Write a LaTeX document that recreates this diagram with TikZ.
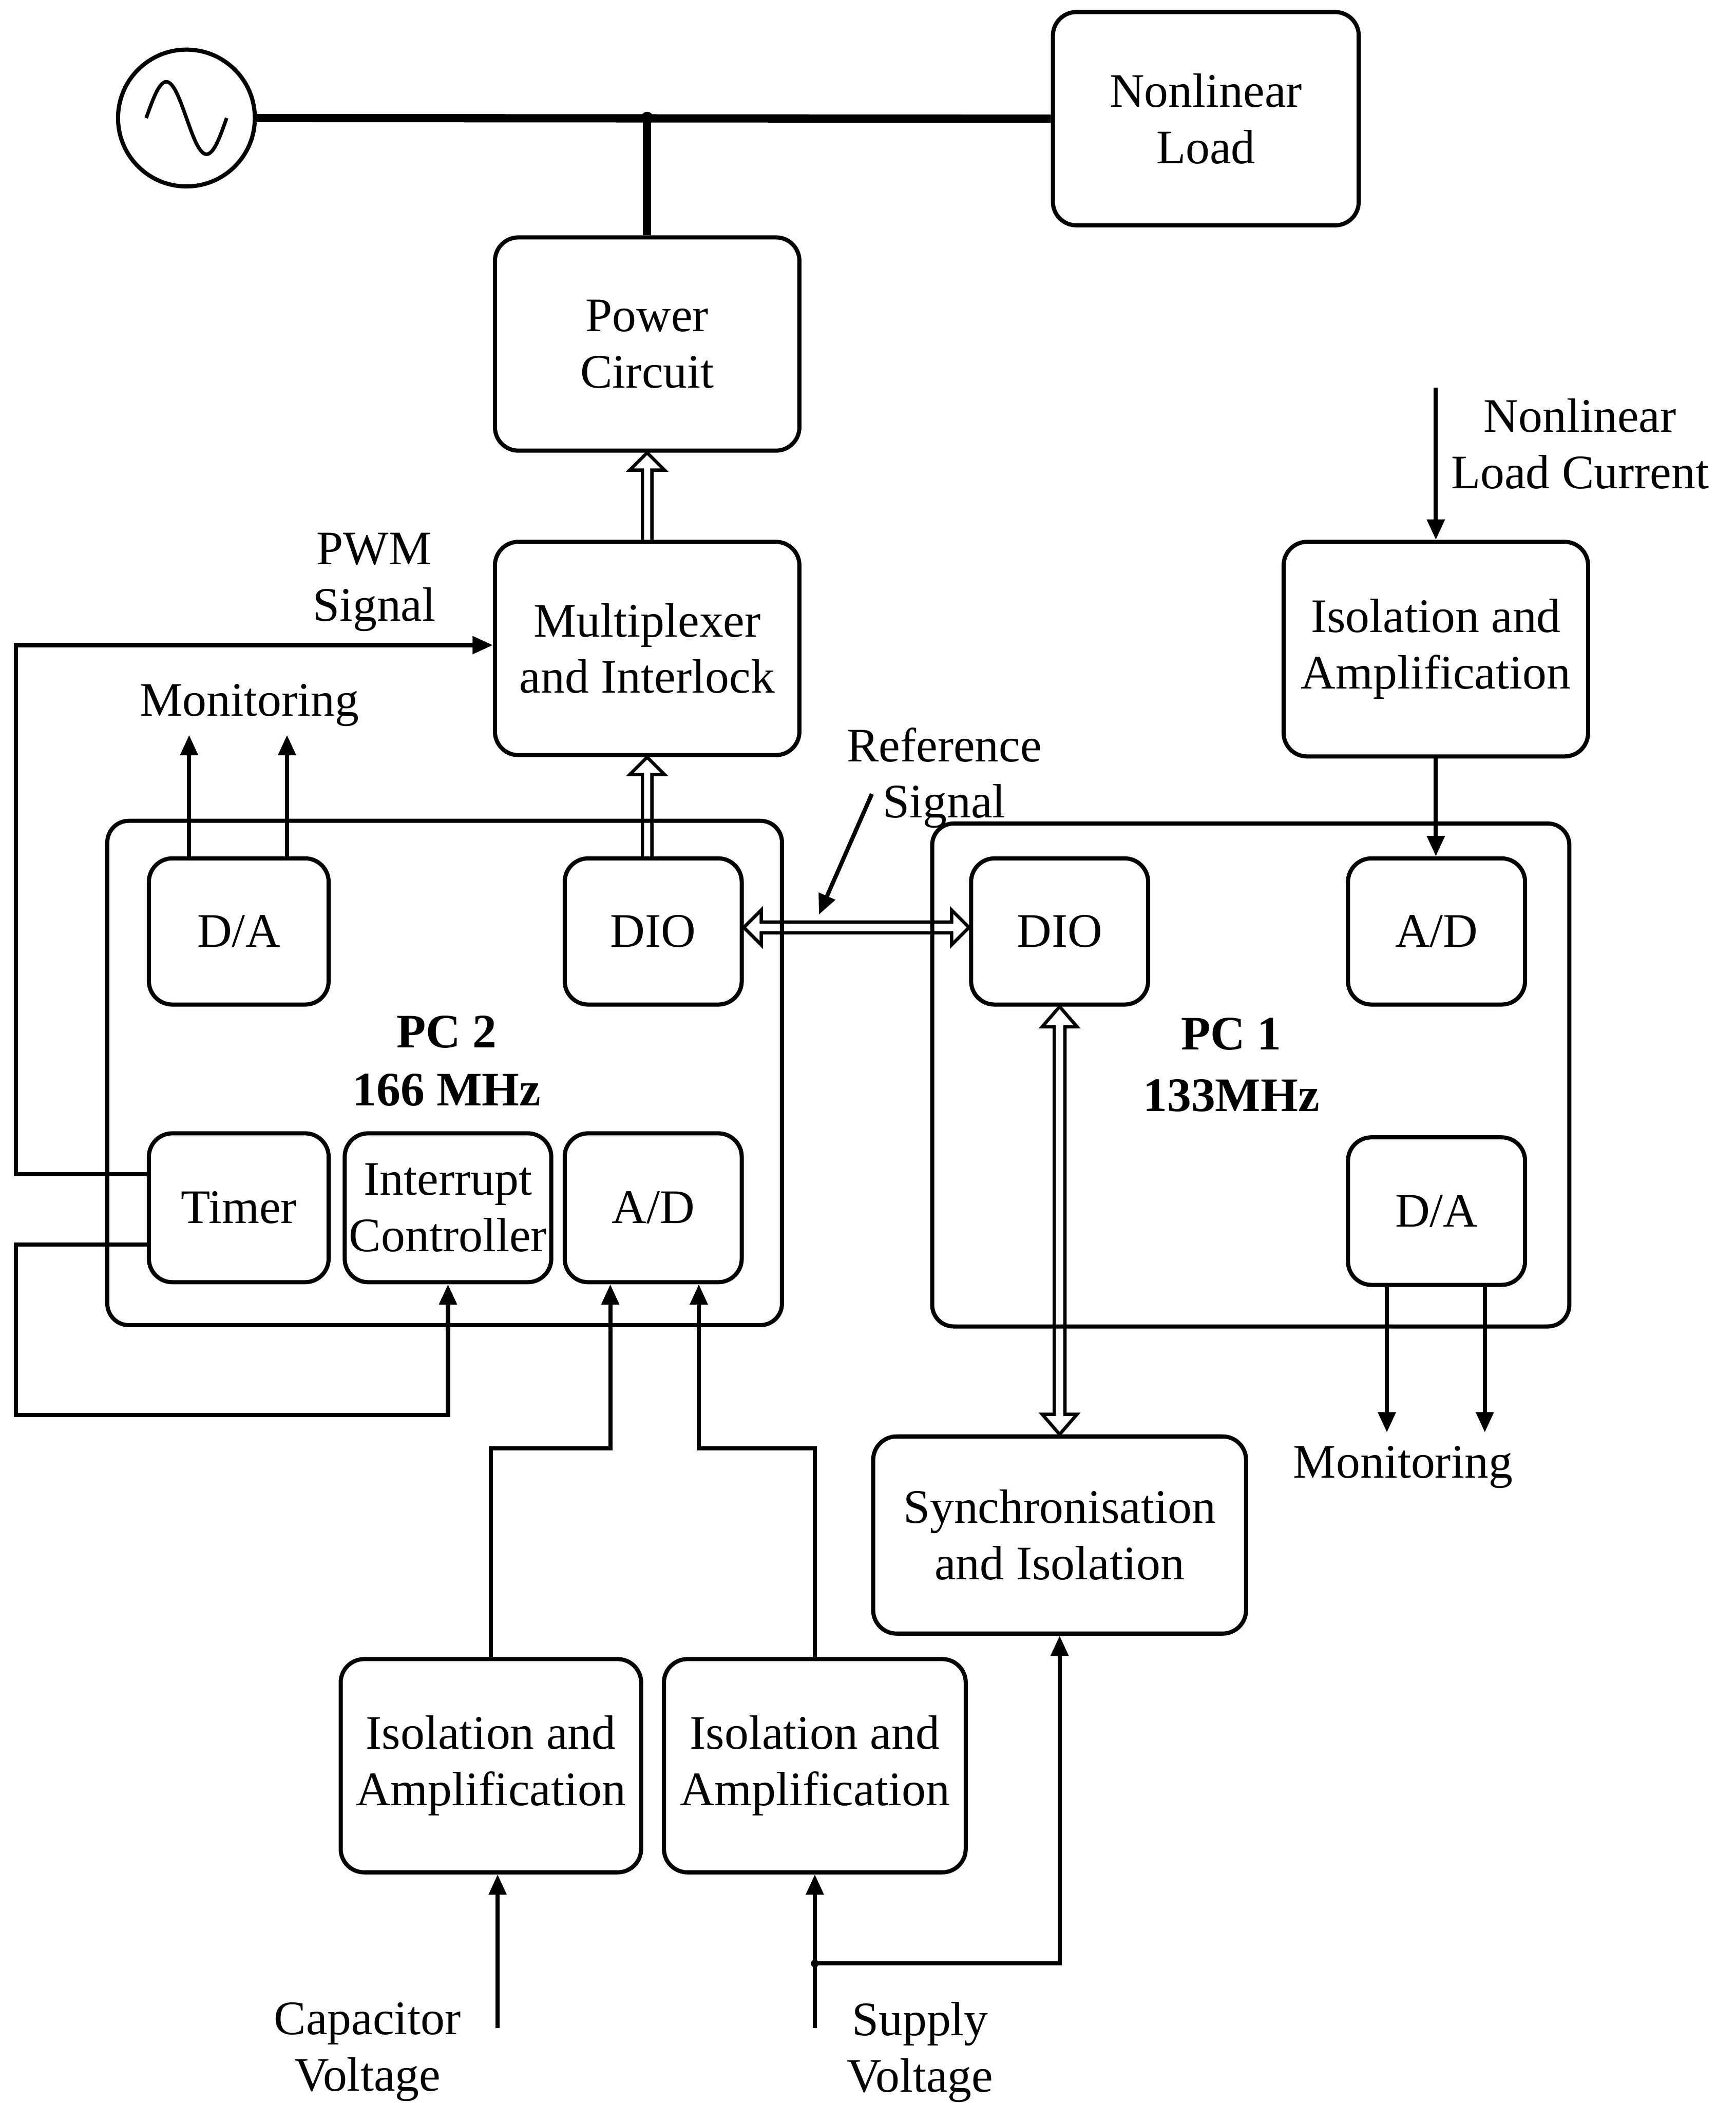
\documentclass[tikz,border=0pt]{standalone}
\usepackage{fontspec}
\setmainfont{Liberation Serif}
\usetikzlibrary{arrows.meta,calc}
\newcommand\U{0.03428cm}
\begin{document}
\begin{tikzpicture}[x=\U, y=-\U,
  txt/.style={font=\fontsize{35}{41}\selectfont},
  blk/.style={draw, line width=3pt, rounded corners=0.6cm, align=center, inner sep=0pt, txt},
  sz/.style n args={2}{minimum width=#1*\U, minimum height=#2*\U},
  lbl/.style={align=center, inner sep=0pt, txt},
  sig/.style={line width=3pt},
  arr/.style={sig, -{Triangle[length=0.52cm, width=0.44cm]}},
  mains/.style={line width=6pt},
  buspoly/.style={line width=2.4pt, line join=miter}
]
\useasboundingbox (0,0) rectangle (1294,1568);

% supply source and load
\node[draw, circle, line width=3pt, minimum size=102*\U, inner sep=0pt] (src) at (139,88) {};
\draw[line width=2.6pt] ($(src)+(-30,0)$) sin ($(src)+(-15,-27)$) cos ($(src)+(0,0)$)
  sin ($(src)+(15,27)$) cos ($(src)+(30,0)$);
\node[blk, sz={228}{159}] (load) at (899,88.5) {Nonlinear\\Load};
\node[blk, sz={227}{159}] (power) at (482.5,256.5) {Power\\Circuit};
\node[blk, sz={227}{159}] (mux) at (482.5,483.5) {Multiplexer\\and Interlock};
\node[blk, sz={227}{160}] (isoR) at (1070.5,484) {Isolation and\\Amplification};

% PC 2
\node[blk, sz={503}{376}, rounded corners=0.55cm] (pc2) at (331.5,800) {};
\node[blk, sz={134}{109}] (da2) at (178,694.5) {D/A};
\node[blk, sz={132}{109}] (dio2) at (487,694.5) {DIO};
\node[blk, sz={134}{111}] (timer) at (178,900.5) {Timer};
\node[blk, sz={154}{111}] (intc) at (334,900.5) {Interrupt\\Controller};
\node[blk, sz={132}{111}] (ad2) at (487,900.5) {A/D};
\node[lbl, font=\fontsize{35}{42}\selectfont\bfseries] (pc2lbl) at (333,791) {PC 2\\166 MHz};

% PC 1
\node[blk, sz={475}{375}, rounded corners=0.55cm] (pc1) at (932.5,801.5) {};
\node[blk, sz={132}{109}] (dio1) at (790,694.5) {DIO};
\node[blk, sz={132}{109}] (ad1) at (1071,694.5) {A/D};
\node[blk, sz={132}{110}] (da1) at (1071,903) {D/A};
\node[lbl, font=\fontsize{35}{45}\selectfont\bfseries] (pc1lbl) at (918,794) {PC 1\\133MHz};

% front-end blocks
\node[blk, sz={278}{147}] (sync) at (790,1144.5) {Synchronisation\\and Isolation};
\node[blk, sz={224}{159}] (iso1) at (366,1316.5) {Isolation and\\Amplification};
\node[blk, sz={225}{159}] (iso2) at (607.5,1316.5) {Isolation and\\Amplification};

% labels
\node[lbl] (pwm) at (279,434) {PWM\\Signal};
\node[lbl] (mon2) at (186,526) {Monitoring};
\node[lbl] (refsig) at (704,580) {Reference\\Signal};
\node[lbl] (mon1) at (1046,1094) {Monitoring};
\node[lbl] (nlcur) at (1178,331) {Nonlinear\\Load Current};
\node[lbl] (capv) at (274,1530) {Capacitor\\Voltage};
\node[lbl] (supv) at (686,1530) {Supply\\Voltage};

% mains connection
\coordinate (bus) at (482.5,88);
\draw[mains] (src.east) -- (load.west);
\draw[mains] (bus) -- (power.north);
\fill (bus) circle[radius=0.16cm];

% data buses (hollow arrows)
\coordinate (b1s) at (mux.north);
\coordinate (b1e) at (power.south);
\draw[buspoly] ($(b1s)+(-3.5,0)$) -- ($(b1e)+(-3.5,13)$) -- ($(b1e)+(-13,13)$) -- (b1e)
  -- ($(b1e)+(13,13)$) -- ($(b1e)+(3.5,13)$) -- ($(b1s)+(3.5,0)$);
\coordinate (b2s) at (dio2.north -| mux.south);
\coordinate (b2e) at (mux.south);
\draw[buspoly] ($(b2s)+(-3.5,0)$) -- ($(b2e)+(-3.5,13)$) -- ($(b2e)+(-13,13)$) -- (b2e)
  -- ($(b2e)+(13,13)$) -- ($(b2e)+(3.5,13)$) -- ($(b2s)+(3.5,0)$);
\coordinate (b3s) at ($(dio2.east)+(0,-3)$);
\coordinate (b3e) at ($(dio1.west)+(0,-3)$);
\draw[buspoly] ($(b3s)+(13,-4)$) -- ($(b3s)+(13,-13)$) -- (b3s) -- ($(b3s)+(13,13)$)
  -- ($(b3s)+(13,4)$) -- ($(b3e)+(-13,4)$) -- ($(b3e)+(-13,13)$) -- (b3e)
  -- ($(b3e)+(-13,-13)$) -- ($(b3e)+(-13,-4)$) -- cycle;
\coordinate (b4s) at (dio1.south);
\coordinate (b4e) at (sync.north);
\draw[buspoly] ($(b4s)+(-4,15)$) -- ($(b4s)+(-13,15)$) -- (b4s) -- ($(b4s)+(13,15)$)
  -- ($(b4s)+(4,15)$) -- ($(b4e)+(4,-15)$) -- ($(b4e)+(13,-15)$) -- (b4e)
  -- ($(b4e)+(-13,-15)$) -- ($(b4e)+(-4,-15)$) -- cycle;

% PWM and interrupt lines
\coordinate (pwmL) at (12,481);
\draw[arr] ($(timer.west)+(0,-25)$) -| (pwmL) -- (pwmL -| mux.west);
\coordinate (intL) at (12,1055);
\draw[arr] ($(timer.west)+(0,27.5)$) -| (intL) -| (intc.south);

% monitoring outputs
\coordinate (monA) at (141,548);
\coordinate (monB) at (214,548);
\draw[arr] (monA |- da2.north) -- (monA);
\draw[arr] (monB |- da2.north) -- (monB);
\coordinate (monC) at (1034,1068);
\coordinate (monD) at (1107,1068);
\draw[arr] (monC |- da1.south) -- (monC);
\draw[arr] (monD |- da1.south) -- (monD);

% load current path
\coordinate (nlc) at (1070.5,289);
\draw[arr] (nlc) -- (isoR.north);
\draw[arr] (isoR.south) -- (isoR.south |- ad1.north);

% analogue inputs to PC 2
\coordinate (adA) at (455,1080);
\coordinate (adB) at (521,1080);
\draw[arr] (iso1.north) |- (adA) -- (adA |- ad2.south);
\draw[arr] (iso2.north) |- (adB) -- (adB |- ad2.south);

% measured voltages
\coordinate (capIn) at (371,1512);
\draw[arr] (capIn) -- (capIn |- iso1.south);
\coordinate (supIn) at (607.5,1512);
\coordinate (supJ) at (607.5,1464);
\draw[arr] (supIn) -- (iso2.south);
\draw[arr] (supJ) -| (sync.south);
\fill (supJ) circle[radius=0.1cm];

% reference signal pointer
\coordinate (refA) at (650,592);
\coordinate (refB) at (610.5,682);
\draw[arr] (refA) -- (refB);
\end{tikzpicture}
\end{document}
